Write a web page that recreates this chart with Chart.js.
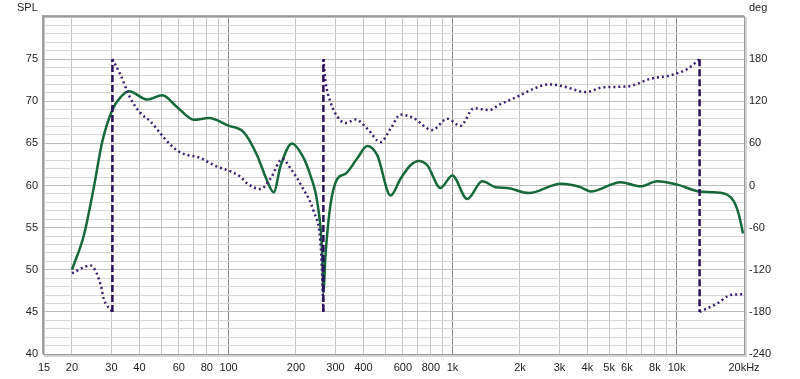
<!DOCTYPE html>
<html>
<head>
<meta charset="utf-8">
<script src="https://cdn.jsdelivr.net/npm/chart.js@4.4.1/dist/chart.umd.min.js"></script>
<style>
  body { margin: 0; background: #fff; }
  canvas { display: block; }
</style>
</head>
<body>
<canvas id="fr" width="800" height="379"></canvas>
<script>
// SPL curve: frequency (Hz) and level (dB)
const splFreq = [20, 22.6, 25, 27.3, 30.3, 33, 35.9, 43.4, 50.6, 59, 70, 81.7, 100, 117, 134, 149, 159, 171, 192, 213, 232, 250, 262, 265, 271, 285, 306, 333, 375, 416, 461, 529, 586, 649, 707, 771, 884, 997, 1163, 1357, 1556, 1755, 2193, 3036, 3363, 3727, 4131, 5623, 6909, 8200, 10080, 12590, 14690, 16840, 18040, 18990, 19800];
const splDb = [50, 54.1, 59.7, 65.2, 69, 70.5, 71.2, 70.2, 70.7, 69.3, 67.8, 68, 67.1, 66.3, 63.6, 60.5, 59.2, 62.4, 65, 63.6, 61.2, 57.7, 51.8, 47.3, 51.8, 57.7, 60.8, 61.4, 63.2, 64.7, 63.6, 58.8, 60.8, 62.4, 62.9, 62.4, 59.7, 61.2, 58.4, 60.5, 59.8, 59.7, 59.1, 60.2, 60.1, 59.8, 59.3, 60.4, 59.9, 60.5, 60.1, 59.3, 59.2, 58.9, 58.1, 56.5, 54.3];

// phase curve: frequency (Hz) and phase (deg), wrapped at +/-180
const phaseFreq = [20, 24.2, 26.9, 27.7, 30.3, 30.3, 33, 36.5, 40.5, 44.9, 49.7, 55.1, 61, 75, 86, 113, 121, 139, 154, 174, 189, 213, 240, 257, 261, 265, 265, 271, 285, 306, 333, 369, 416, 477, 529, 586, 649, 672, 811, 947, 1086, 1244, 1452, 1638, 1945, 2307, 2692, 3141, 3727, 3923, 4735, 6025, 7656, 9397, 11160, 12670, 12670, 15200, 17420, 19640];
const phaseDeg = [-125, -114, -142, -161, -180, 180, 157, 124, 103, 91, 74, 58, 47, 39, 29, 12.5, 3, -5, 10, 38, 24.5, -2, -37, -80, -120, -180, 180, 148, 119, 98, 89, 94, 81, 62, 81, 101, 98, 96, 79, 95, 85, 110, 107.5, 116, 126.5, 138, 144, 141, 134, 133, 140, 141, 152, 157, 166, 180, -180, -168, -156, -155];

// axis ticks
const xGridValues = [15, 20, 30, 40, 50, 60, 70, 80, 90, 100, 200, 300, 400, 500, 600, 700, 800, 900, 1000, 2000, 3000, 4000, 5000, 6000, 7000, 8000, 9000, 10000, 20000];
const xTickValues = [15, 20, 30, 40, 60, 80, 100, 200, 300, 400, 600, 800, 1000, 2000, 3000, 4000, 5000, 6000, 8000, 10000, 20000];
const xTickLabels = ['15', '20', '30', '40', '60', '80', '100', '200', '300', '400', '600', '800', '1k', '2k', '3k', '4k', '5k', '6k', '8k', '10k', '20kHz'];
const splTicks = [40, 45, 50, 55, 60, 65, 70, 75];
const degTicks = [-240, -180, -120, -60, 0, 60, 120, 180];

const GREEN = '#17683b';
const PURPLE = '#3d1e70';
const DASHED = '#2c105e';

const splData = splFreq.map((f, i) => ({ x: f, y: splDb[i] }));

// split the phase into continuous pieces and the vertical wrap jumps
const datasets = [];
let piece = [];
for (let i = 0; i < phaseFreq.length; i++) {
  const pt = { x: phaseFreq[i], y: phaseDeg[i] };
  if (i > 0 && Math.abs(phaseDeg[i] - phaseDeg[i - 1]) > 300) {
    datasets.push({ data: piece, yAxisID: 'y1', borderColor: PURPLE, borderWidth: 2.5, borderDash: [2, 3], cubicInterpolationMode: 'monotone', order: 1 });
    datasets.push({ data: [piece[piece.length - 1], pt], yAxisID: 'y1', borderColor: DASHED, borderWidth: 2.5, borderDash: [7, 3], order: 0 });
    piece = [];
  }
  piece.push(pt);
}
datasets.push({ data: piece, yAxisID: 'y1', borderColor: PURPLE, borderWidth: 2.5, borderDash: [2, 3], cubicInterpolationMode: 'monotone', order: 1 });
datasets.push({ data: splData, yAxisID: 'y', borderColor: GREEN, borderWidth: 2.5, cubicInterpolationMode: 'monotone', order: 5 });

const frame = {
  id: 'frame',
  afterDatasetsDraw(chart) {
    const { ctx, chartArea: a } = chart;
    ctx.save();
    ctx.strokeStyle = '#d2d2d2';
    ctx.lineWidth = 3;
    ctx.beginPath();
    ctx.moveTo(a.right + 1.5, a.top);
    ctx.lineTo(a.right + 1.5, a.bottom + 1.5);
    ctx.lineTo(a.left, a.bottom + 1.5);
    ctx.stroke();
    ctx.strokeStyle = '#a8a8a8';
    ctx.lineWidth = 2;
    ctx.beginPath();
    ctx.moveTo(a.left - 1, a.bottom);
    ctx.lineTo(a.left - 1, a.top - 1);
    ctx.lineTo(a.right, a.top - 1);
    ctx.stroke();
    ctx.lineWidth = 1;
    ctx.strokeStyle = '#9a9a9a';
    ctx.strokeRect(a.left - 0.5, a.top - 0.5, a.right - a.left + 1, a.bottom - a.top + 1);
    ctx.fillStyle = '#1e1e1e';
    ctx.font = '11px "Liberation Sans"';
    ctx.textBaseline = 'middle';
    ctx.textAlign = 'left';
    ctx.fillText('SPL', 17, 8);
    ctx.fillText('deg', a.right + 5, 8);
    ctx.restore();
  }
};

const font = { family: 'Liberation Sans', size: 11 };

new Chart(document.getElementById('fr'), {
  type: 'line',
  data: { datasets: datasets },
  options: {
    responsive: false,
    animation: false,
    layout: { padding: { top: 17, left: 0, right: 0, bottom: 0 } },
    elements: { point: { radius: 0 }, line: { fill: false } },
    plugins: { legend: { display: false }, tooltip: { enabled: false } },
    scales: {
      x: {
        type: 'logarithmic',
        min: 15,
        max: 20000,
        afterBuildTicks: s => { s.ticks = xGridValues.map(v => ({ value: v })); },
        afterFit: s => { s.height = 25; },
        border: { display: false },
        grid: {
          drawTicks: false,
          color: c => [100, 1000, 10000].includes(c.tick.value) ? '#8a8a8a' : '#c6c6c6'
        },
        ticks: {
          autoSkip: false,
          maxRotation: 0,
          padding: 7,
          color: '#1e1e1e',
          font: font,
          callback: v => {
            const i = xTickValues.indexOf(v);
            return i >= 0 ? xTickLabels[i] : '';
          }
        }
      },
      y: {
        position: 'left',
        min: 40,
        max: 80,
        afterBuildTicks: s => {
          const t = [];
          for (let v = 40; v <= 80; v++) t.push({ value: v });
          s.ticks = t;
        },
        afterFit: s => { s.width = 44; },
        border: { display: false },
        grid: {
          drawTicks: false,
          color: c => c.tick.value % 5 === 0 ? '#bdbdbd' : '#d6d6d6'
        },
        ticks: {
          autoSkip: false,
          padding: 6,
          color: '#1e1e1e',
          font: font,
          callback: v => splTicks.includes(v) ? String(v) : ''
        }
      },
      y1: {
        position: 'right',
        min: -240,
        max: 240,
        afterBuildTicks: s => { s.ticks = degTicks.map(v => ({ value: v })); },
        afterFit: s => { s.width = 56; },
        border: { display: false },
        grid: { display: false, drawTicks: false },
        ticks: {
          autoSkip: false,
          padding: 5,
          color: '#1e1e1e',
          font: font,
          callback: v => String(v)
        }
      }
    }
  },
  plugins: [frame]
});
</script>
</body>
</html>
